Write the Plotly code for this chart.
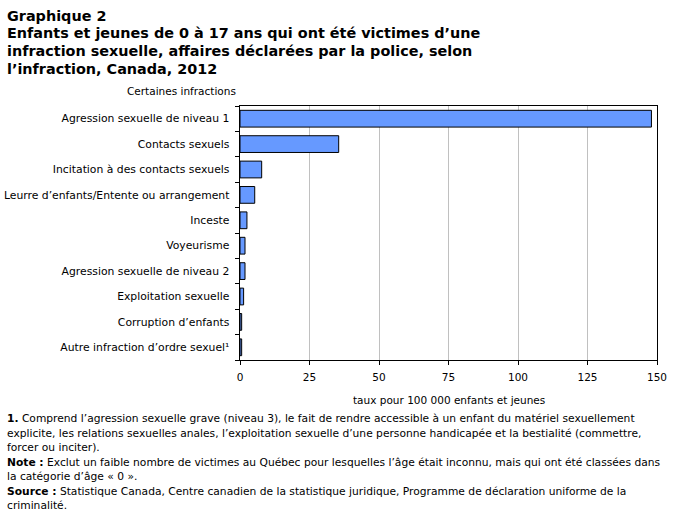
import plotly.graph_objects as go

categories = [
    "Agression sexuelle de niveau 1",
    "Contacts sexuels",
    "Incitation à des contacts sexuels",
    "Leurre d’enfants/Entente ou arrangement",
    "Inceste",
    "Voyeurisme",
    "Agression sexuelle de niveau 2",
    "Exploitation sexuelle",
    "Corruption d’enfants",
    "Autre infraction d’ordre sexuel¹",
]
values = [148.0, 35.5, 7.8, 5.3, 2.5, 1.8, 1.8, 1.3, 0.6, 0.6]
x_ticks = [0, 25, 50, 75, 100, 125, 150]

title_lines = [
    "Graphique 2",
    "Enfants et jeunes de 0 à 17 ans qui ont été victimes d’une",
    "infraction sexuelle, affaires déclarées par la police, selon",
    "l’infraction, Canada, 2012",
]
notes = [
    "<b>1.</b> Comprend l’agression sexuelle grave (niveau 3), le fait de rendre accessible à un enfant du matériel sexuellement",
    "explicite, les relations sexuelles anales, l’exploitation sexuelle d’une personne handicapée et la bestialité (commettre,",
    "forcer ou inciter).",
    "<b>Note :</b> Exclut un faible nombre de victimes au Québec pour lesquelles l’âge était inconnu, mais qui ont été classées dans",
    "la catégorie d’âge « 0 ».",
    "<b>Source :</b> Statistique Canada, Centre canadien de la statistique juridique, Programme de déclaration uniforme de la",
    "criminalité.",
]

W, H = 677, 511
L, R, T, B = 240, 20, 106, 151
PW, PH = W - L - R, H - T - B
FONT = "DejaVu Sans"

def px(x):
    return (x - L) / PW

def py(y):
    return (H - B - y) / PH

n = len(categories)
pos = list(range(n))
bounds = [i - 0.5 for i in range(n + 1)]

fig = go.Figure()
fig.add_trace(go.Bar(
    x=values, y=pos, orientation="h",
    marker=dict(color="#6699FF", line=dict(color="#000000", width=1)),
    width=0.66, hoverinfo="x+text", text=categories, textposition="none",
))

annotations = []
for i, t in enumerate(title_lines):
    annotations.append(dict(text="<b>%s</b>" % t, x=px(5), y=py(6 + i * 17.5), xref="paper", yref="paper",
                            xanchor="left", yanchor="top", showarrow=False,
                            font=dict(family=FONT, size=14.4, color="#000")))
annotations.append(dict(text="Certaines infractions", x=px(125), y=py(83), xref="paper", yref="paper",
                        xanchor="left", yanchor="top", showarrow=False,
                        font=dict(family=FONT, size=10.5, color="#000")))
annotations.append(dict(text="taux pour 100 000 enfants et jeunes", x=px(449), y=py(392), xref="paper", yref="paper",
                        xanchor="center", yanchor="top", showarrow=False,
                        font=dict(family=FONT, size=10.5, color="#000")))
for i, t in enumerate(notes):
    annotations.append(dict(text=t, x=px(5), y=py(410 + i * 14.5), xref="paper", yref="paper",
                            xanchor="left", yanchor="top", showarrow=False,
                            font=dict(family=FONT, size=10.7, color="#000")))

fig.update_layout(
    width=W, height=H, margin=dict(l=L, r=R, t=T, b=B, autoexpand=False),
    paper_bgcolor="white", plot_bgcolor="white", showlegend=False,
    font=dict(family=FONT, size=10, color="#000"),
    xaxis=dict(range=[0, 150], tickvals=x_ticks, ticktext=[str(v) for v in x_ticks],
               showgrid=True, gridcolor="#C0C0C0", gridwidth=1, zeroline=False,
               showline=True, linecolor="#000", linewidth=1, mirror=True,
               ticks="outside", ticklen=4, tickcolor="#000", ticklabelstandoff=3,
               tickfont=dict(size=10.5), automargin=False, fixedrange=True),
    yaxis=dict(range=[n - 0.5, -0.5], tickvals=pos, ticktext=[c + " " for c in categories],
               showgrid=False, zeroline=False, showline=True, linecolor="#000", linewidth=1,
               mirror=True, ticks="", ticklabelstandoff=4, tickfont=dict(size=10.8),
               minor=dict(tickvals=bounds, ticks="outside", ticklen=4, tickcolor="#000",
                          showgrid=False),
               automargin=False, fixedrange=True),
    annotations=annotations,
)

fig.write_html("out.html")
